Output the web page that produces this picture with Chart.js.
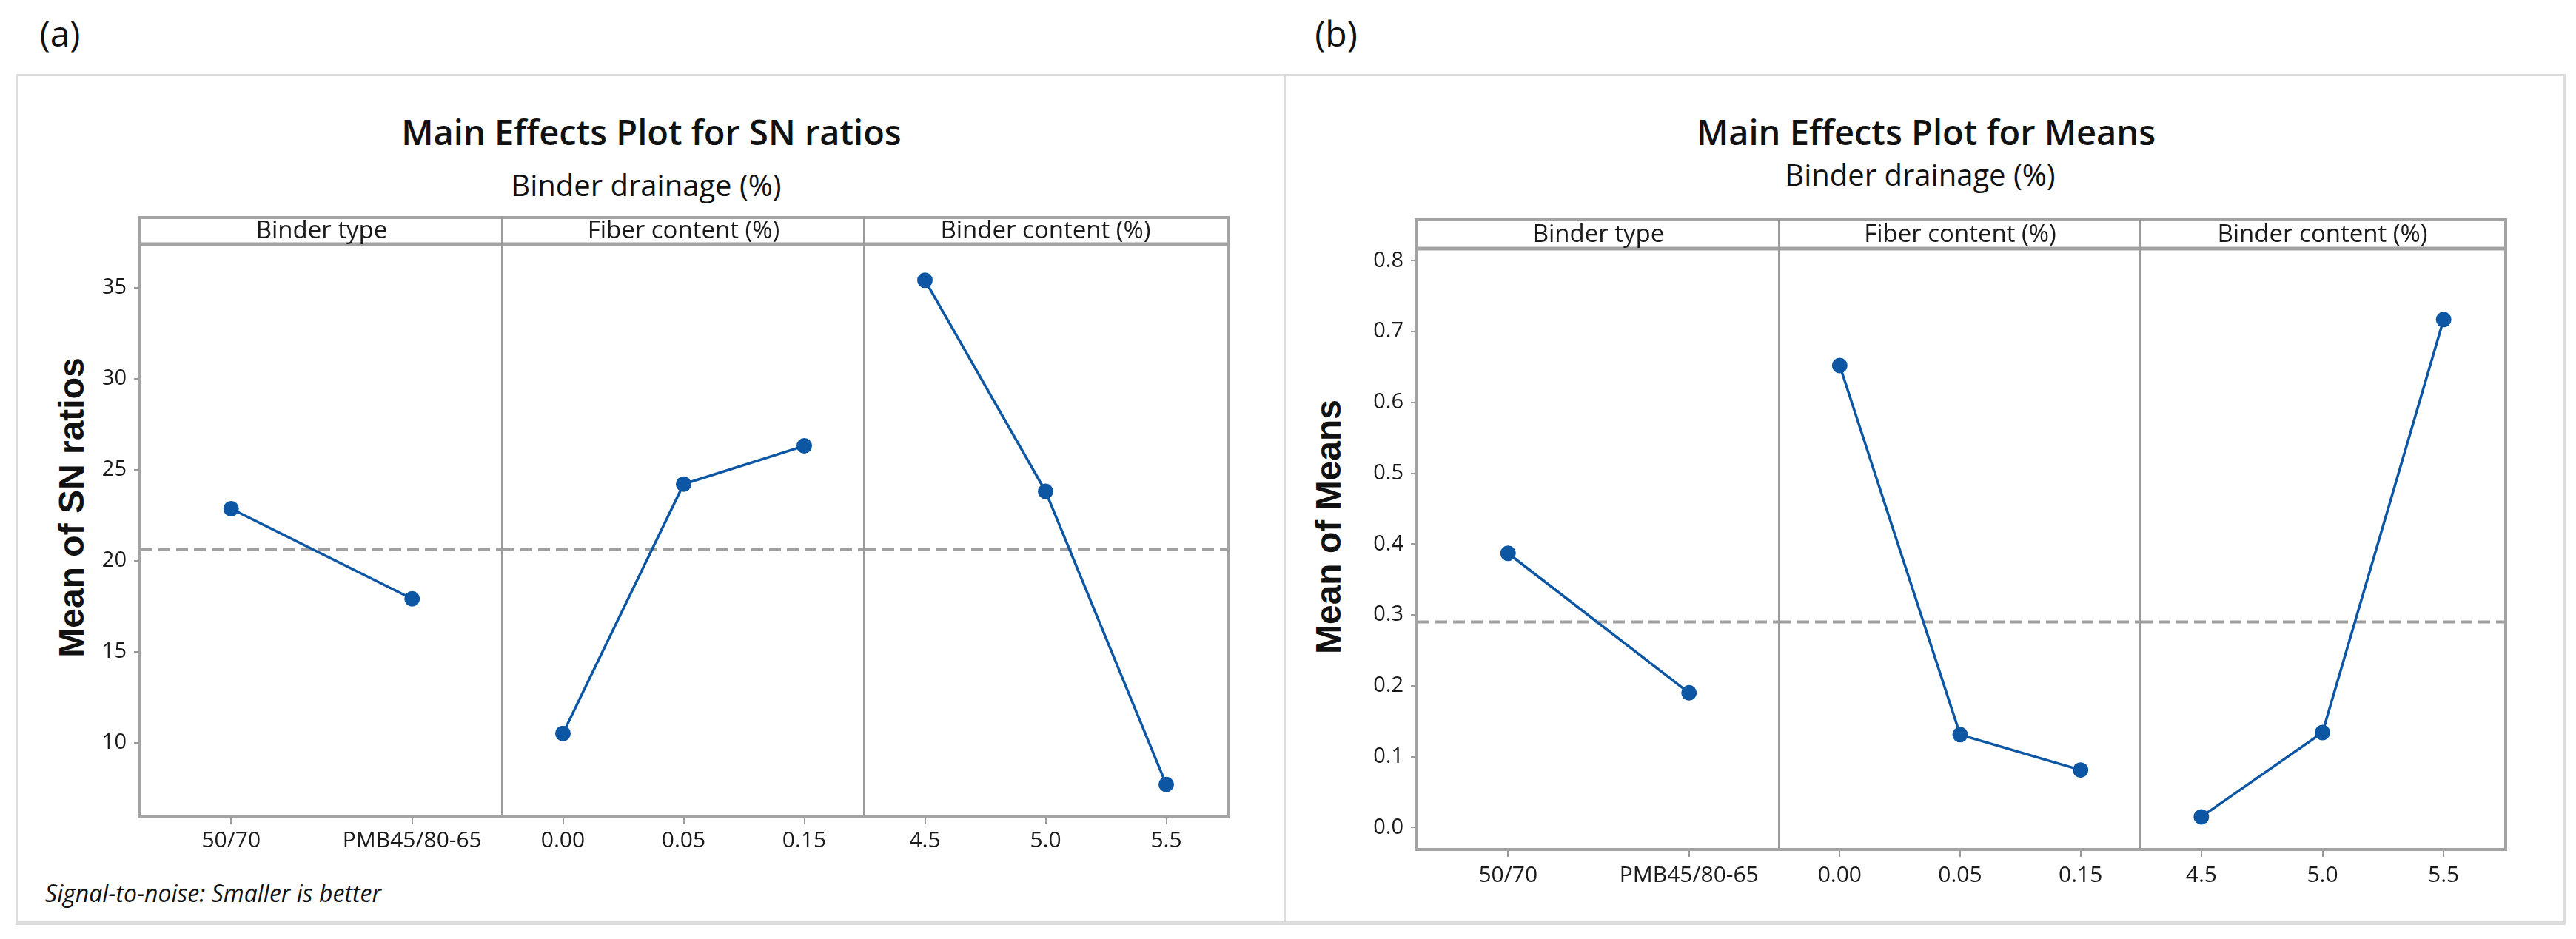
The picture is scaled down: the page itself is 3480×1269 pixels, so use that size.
<!DOCTYPE html>
<html>
<head>
<meta charset="utf-8">
<script src="https://cdn.jsdelivr.net/npm/chart.js@4.4.1/dist/chart.umd.min.js"></script>
<style>
  html, body { margin: 0; padding: 0; background: #ffffff; }
  body { width: 3480px; height: 1269px; position: relative; overflow: hidden; font-family: 'Open Sans', sans-serif; color: #111; }
  .panel { position: absolute; box-sizing: border-box; border: 3px solid #dcdcdc; border-bottom-width: 5px; }
  .txt { position: absolute; white-space: nowrap; line-height: 1; transform: translate(-50%, -50%); }
  .tag { font-size: 48px; font-weight: 400; }
  .title { font-size: 47px; font-weight: 600; }
  .sub { font-size: 40px; font-weight: 400; }
  .ytitle { position: absolute; white-space: nowrap; line-height: 1; font-family: 'Liberation Sans', Arial, sans-serif; font-weight: 700; font-size: 48px; transform: translate(-50%, -50%) rotate(-90deg); }
  .foot { position: absolute; white-space: nowrap; line-height: 1; transform: translateY(-50%); font-style: italic; font-size: 32px; }
  canvas { position: absolute; }
</style>
</head>
<body>
<div class="panel" style="left:21px; top:100px; width:1716px; height:1150px;"></div>
<div class="panel" style="left:1734px; top:100px; width:1732px; height:1150px;"></div>

<div class="txt tag" style="left:81px; top:45px;">(a)</div>
<div class="txt title" style="left:880px; top:178px;">Main Effects Plot for SN ratios</div>
<div class="txt sub" style="left:873px; top:250px;">Binder drainage (%)</div>
<div class="ytitle" style="left:97px; top:686px;">Mean of SN ratios</div>
<div class="foot" style="left:61px; top:1207px;">Signal-to-noise: Smaller is better</div>

<div class="txt tag" style="left:1805px; top:45px;">(b)</div>
<div class="txt title" style="left:2602px; top:178px;">Main Effects Plot for Means</div>
<div class="txt sub" style="left:2594px; top:236px;">Binder drainage (%)</div>
<div class="ytitle" style="left:1795px; top:712px;">Mean of Means</div>

<canvas id="a1" width="639" height="880" style="left:40px; top:292px;"></canvas>
<canvas id="a2" width="489" height="880" style="left:679px; top:292px;"></canvas>
<canvas id="a3" width="495" height="880" style="left:1168px; top:292px;"></canvas>

<canvas id="b1" width="564" height="921" style="left:1840px; top:295px;"></canvas>
<canvas id="b2" width="488" height="921" style="left:2404px; top:295px;"></canvas>
<canvas id="b3" width="497" height="921" style="left:2892px; top:295px;"></canvas>

<script>
// ---------- data ----------
const factorNames = ['Binder type', 'Fiber content (%)', 'Binder content (%)'];
const binderTypeLevels = ['50/70', 'PMB45/80-65'];
const fiberLevels = ['0.00', '0.05', '0.15'];
const binderContentLevels = ['4.5', '5.0', '5.5'];

const snBinderType = [22.85, 17.9];
const snFiber = [10.5, 24.2, 26.3];
const snBinderContent = [35.4, 23.8, 7.7];
const snOverallMean = 20.6;
const snTicks = [10, 15, 20, 25, 30, 35];

const meanBinderType = [0.387, 0.190];
const meanFiber = [0.652, 0.131, 0.081];
const meanBinderContent = [0.015, 0.134, 0.717];
const meansOverallMean = 0.290;
const meanTicks = [0.0, 0.1, 0.2, 0.3, 0.4, 0.5, 0.6, 0.7, 0.8];

// ---------- style ----------
const BLUE = '#0c56a3';
const FRAME = '#a3a3a3';
const DIVIDER = '#9b9b9b';
const TEXT = '#1a1a1a';
Chart.defaults.font.family = "'Open Sans', sans-serif";

const facetFrame = {
  id: 'facetFrame',
  beforeDatasetsDraw(chart, args, o) {
    const { ctx, chartArea: ca } = chart;
    const y = chart.scales.y.getPixelForValue(o.refValue);
    ctx.save();
    ctx.strokeStyle = '#a0a0a0';
    ctx.lineWidth = 4;
    ctx.setLineDash([16, 8]);
    ctx.beginPath();
    ctx.moveTo(ca.left, y);
    ctx.lineTo(ca.right, y);
    ctx.stroke();
    ctx.restore();
  },
  afterDraw(chart, args, o) {
    const { ctx, chartArea: ca } = chart;
    const top = ca.top - o.stripH;
    const l = o.first ? ca.left - 4 : ca.left;
    const r = o.last ? ca.right + 4 : ca.right;
    ctx.save();
    ctx.setLineDash([]);
    const seg = (x1, y1, x2, y2, w, c) => {
      ctx.strokeStyle = c; ctx.lineWidth = w;
      ctx.beginPath(); ctx.moveTo(x1, y1); ctx.lineTo(x2, y2); ctx.stroke();
    };
    seg(l, top + 2, r, top + 2, 4, FRAME);
    seg(l, ca.top - 2, r, ca.top - 2, 5, FRAME);
    seg(l, ca.bottom + 2, r, ca.bottom + 2, 4, FRAME);
    if (o.first) seg(ca.left - 2, top, ca.left - 2, ca.bottom + 4, 4, FRAME);
    if (o.last) seg(ca.right + 2, top, ca.right + 2, ca.bottom + 4, 4, FRAME);
    else seg(ca.right - 1, top, ca.right - 1, ca.bottom, 2, DIVIDER);
    ctx.fillStyle = TEXT;
    ctx.font = "33px 'Open Sans', sans-serif";
    ctx.textAlign = 'center';
    ctx.textBaseline = 'middle';
    ctx.fillText(o.label, (ca.left + ca.right) / 2, (top + ca.top) / 2 + 1);
    ctx.restore();
  }
};

function makeFacet(id, cfg) {
  const yScale = {
    display: cfg.first,
    min: cfg.yMin,
    max: cfg.yMax,
    afterBuildTicks: (s) => { s.ticks = cfg.ticks.map(v => ({ value: v })); },
    afterFit: (s) => {
      if (cfg.first) s.width = cfg.yWidth;
      s.paddingTop = 0; s.paddingBottom = 0;
    },
    ticks: {
      color: TEXT,
      font: { size: 29 },
      padding: 10,
      callback: (v) => cfg.fmt(v)
    },
    grid: { drawOnChartArea: false, drawTicks: true, tickLength: 9, color: DIVIDER, lineWidth: 2 },
    border: { display: false }
  };
  return new Chart(document.getElementById(id), {
    type: 'line',
    data: {
      labels: cfg.labels,
      datasets: [{
        data: cfg.values,
        borderColor: BLUE,
        backgroundColor: BLUE,
        pointBackgroundColor: BLUE,
        pointBorderColor: BLUE,
        pointRadius: 10.5,
        pointBorderWidth: 0,
        borderWidth: 3.5,
        tension: 0,
        clip: false
      }]
    },
    options: {
      responsive: false,
      animation: false,
      devicePixelRatio: 1,
      layout: { autoPadding: false, padding: { top: cfg.stripH, right: cfg.last ? 6 : 0, left: 0, bottom: 0 } },
      plugins: {
        legend: { display: false },
        tooltip: { enabled: false },
        facetFrame: { label: cfg.label, stripH: cfg.stripH, first: cfg.first, last: cfg.last, refValue: cfg.ref }
      },
      scales: {
        x: {
          type: 'category',
          offset: true,
          afterFit: (s) => { s.height = 70; s.paddingLeft = 0; s.paddingRight = 0; },
          ticks: { color: TEXT, font: { size: 30 }, padding: cfg.xPad, maxRotation: 0, autoSkip: false },
          grid: { offset: false, drawOnChartArea: false, drawTicks: true, tickLength: 12, color: DIVIDER, lineWidth: 2 },
          border: { display: false }
        },
        y: yScale
      }
    },
    plugins: [facetFrame]
  });
}

const snFmt = (v) => String(v);
const meanFmt = (v) => Number(v).toFixed(1);

const snCommon = { yMin: 6.0, yMax: 37.3, ticks: snTicks, fmt: snFmt, stripH: 40, ref: snOverallMean, xPad: 4, yWidth: 150 };
makeFacet('a1', Object.assign({}, snCommon, { label: factorNames[0], labels: binderTypeLevels, values: snBinderType, first: true, last: false }));
makeFacet('a2', Object.assign({}, snCommon, { label: factorNames[1], labels: fiberLevels, values: snFiber, first: false, last: false }));
makeFacet('a3', Object.assign({}, snCommon, { label: factorNames[2], labels: binderContentLevels, values: snBinderContent, first: false, last: true }));

const meanCommon = { yMin: -0.029, yMax: 0.815, ticks: meanTicks, fmt: meanFmt, stripH: 43, ref: meansOverallMean, xPad: 7, yWidth: 75 };
makeFacet('b1', Object.assign({}, meanCommon, { label: factorNames[0], labels: binderTypeLevels, values: meanBinderType, first: true, last: false }));
makeFacet('b2', Object.assign({}, meanCommon, { label: factorNames[1], labels: fiberLevels, values: meanFiber, first: false, last: false }));
makeFacet('b3', Object.assign({}, meanCommon, { label: factorNames[2], labels: binderContentLevels, values: meanBinderContent, first: false, last: true }));
</script>
</body>
</html>
